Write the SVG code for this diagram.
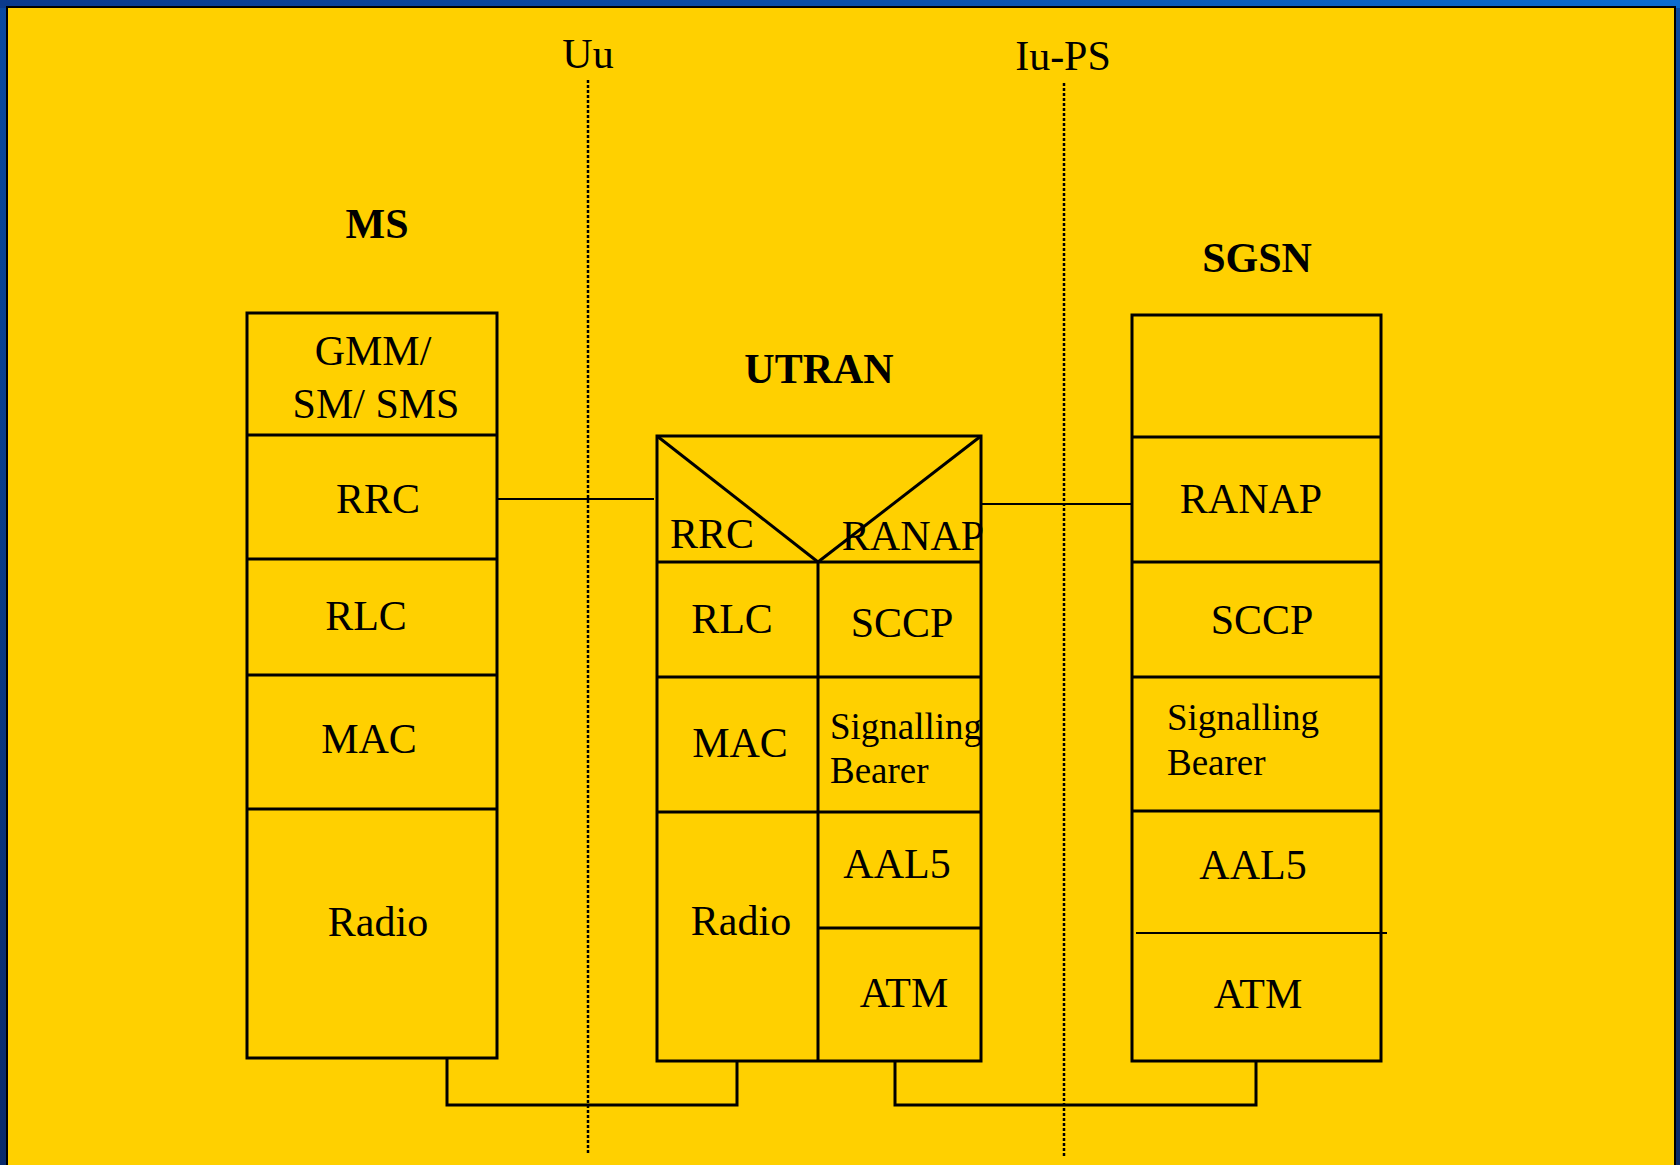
<svg xmlns="http://www.w3.org/2000/svg" width="1680" height="1165" viewBox="0 0 1680 1165">
<defs>
<linearGradient id="bg" x1="0" y1="0" x2="1" y2="0">
<stop offset="0" stop-color="#0b3a8c"/>
<stop offset="0.5" stop-color="#0a4fa8"/>
<stop offset="1" stop-color="#0b6ccf"/>
</linearGradient>
<linearGradient id="bgv" x1="0" y1="0" x2="0" y2="1">
<stop offset="0" stop-color="#0b4aa0"/>
<stop offset="1" stop-color="#0a2a6a"/>
</linearGradient>
</defs>
<style>
.t{font-family:"Liberation Serif","Times New Roman",serif;font-size:42px;fill:#000;text-anchor:middle}
.s{font-family:"Liberation Serif","Times New Roman",serif;font-size:37px;fill:#000}
.b{font-family:"Liberation Serif","Times New Roman",serif;font-size:42px;font-weight:bold;fill:#000;text-anchor:middle}
.box{fill:none;stroke:#000;stroke-width:3}
.ln{stroke:#000;stroke-width:3;fill:none}
.cn{stroke:#000;stroke-width:2;fill:none}
.dot{stroke:#000;stroke-width:2.5;stroke-dasharray:3 2;fill:none}
</style>
<rect x="0" y="0" width="1680" height="1165" fill="url(#bgv)"/>
<rect x="0" y="0" width="1680" height="8" fill="url(#bg)"/>
<rect x="7" y="7" width="1668" height="1170" fill="#FFD000" stroke="#000" stroke-width="2"/>

<g id="labels">
<text class="t" x="588" y="68">Uu</text>
<text class="t" x="1063" y="70">Iu-PS</text>
</g>

<g id="interfaces">
<line class="dot" x1="588" y1="80" x2="588" y2="1153"/>
<line class="dot" x1="1064" y1="83" x2="1064" y2="1156"/>
</g>

<g id="MS">
<text class="b" x="377" y="238">MS</text>
<rect class="box" x="247" y="313" width="250" height="745"/>
<line class="ln" x1="247" y1="435" x2="497" y2="435"/>
<line class="ln" x1="247" y1="559" x2="497" y2="559"/>
<line class="ln" x1="247" y1="675" x2="497" y2="675"/>
<line class="ln" x1="247" y1="809" x2="497" y2="809"/>
<text class="t" x="373" y="365">GMM/</text>
<text class="t" x="376" y="418">SM/ SMS</text>
<text class="t" x="378" y="513">RRC</text>
<text class="t" x="366" y="630">RLC</text>
<text class="t" x="369" y="753">MAC</text>
<text class="t" x="378" y="936">Radio</text>
</g>

<g id="UTRAN">
<text class="b" x="819" y="383">UTRAN</text>
<rect class="box" x="657" y="436" width="324" height="625"/>
<line class="ln" x1="657" y1="436" x2="818" y2="562"/>
<line class="ln" x1="818" y1="562" x2="981" y2="436"/>
<line class="ln" x1="657" y1="562" x2="981" y2="562"/>
<line class="ln" x1="818" y1="562" x2="818" y2="1061"/>
<line class="ln" x1="657" y1="677" x2="981" y2="677"/>
<line class="ln" x1="657" y1="812" x2="981" y2="812"/>
<line class="ln" x1="818" y1="928" x2="981" y2="928"/>
<text class="t" x="712" y="548">RRC</text>
<text class="t" x="913" y="550">RANAP</text>
<text class="t" x="732" y="633">RLC</text>
<text class="t" x="902" y="637">SCCP</text>
<text class="t" x="740" y="757">MAC</text>
<text class="s" x="830" y="739">Signalling</text>
<text class="s" x="830" y="783">Bearer</text>
<text class="t" x="741" y="935">Radio</text>
<text class="t" x="897" y="878">AAL5</text>
<text class="t" x="904" y="1007">ATM</text>
</g>

<g id="SGSN">
<text class="b" x="1257" y="272">SGSN</text>
<rect class="box" x="1132" y="315" width="249" height="746"/>
<line class="ln" x1="1132" y1="437" x2="1381" y2="437"/>
<line class="ln" x1="1132" y1="562" x2="1381" y2="562"/>
<line class="ln" x1="1132" y1="677" x2="1381" y2="677"/>
<line class="ln" x1="1132" y1="811" x2="1381" y2="811"/>
<line class="cn" x1="1136" y1="933" x2="1387" y2="933"/>
<text class="t" x="1251" y="513">RANAP</text>
<text class="t" x="1262" y="634">SCCP</text>
<text class="s" x="1167" y="730">Signalling</text>
<text class="s" x="1167" y="775">Bearer</text>
<text class="t" x="1253" y="879">AAL5</text>
<text class="t" x="1258" y="1008">ATM</text>
</g>

<g id="connectors">
<line class="cn" x1="497" y1="499" x2="654" y2="499"/>
<line class="cn" x1="981" y1="504" x2="1132" y2="504"/>
<polyline class="ln" points="447,1058 447,1105 737,1105 737,1061"/>
<polyline class="ln" points="895,1061 895,1105 1256,1105 1256,1061"/>
</g>
</svg>
